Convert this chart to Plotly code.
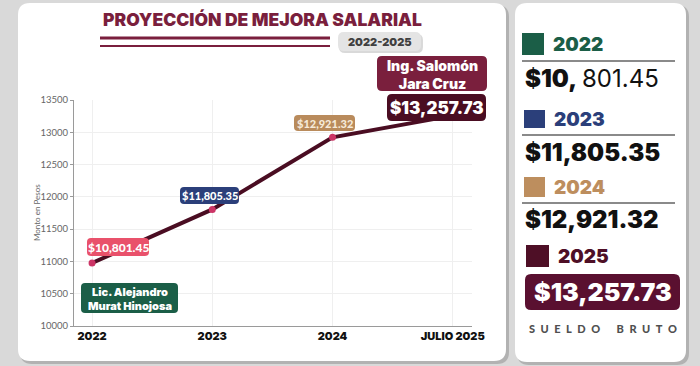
import plotly.graph_objects as go

# ---------------- data ----------------
categories = ["2022", "2023", "2024", "JULIO 2025"]
plotted_values = [10975, 11805.35, 12921.32, 13257.73]
point_labels = ["$10,801.45", "$11,805.35", "$12,921.32", "$13,257.73"]
y_ticks = [10000, 10500, 11000, 11500, 12000, 12500, 13000, 13500]
panel_years = ["2022", "2023", "2024", "2025"]
panel_amounts = [("$10,", "801.45"), ("$11,805.35", ""), ("$12,921.32", ""), ("$13,257.73", "")]
governors = ["Lic. Alejandro<br>Murat Hinojosa", "Ing. Salomón<br>Jara Cruz"]
title_text = "PROYECCIÓN DE MEJORA SALARIAL"
period_text = "2022-2025"
footer_text = "\u2002".join("SUELDO") + "\u2002\u2002\u2002" + "\u2002".join("BRUTO")

# ---------------- styling ----------------
W, H = 700, 366
PL, PR, PT, PB = 74, 472, 100, 326  # plot area in pixels
HEAVY = "Inter"
BODY = "Lato"

year_colors = ["#1b5e47", "#2b3f7a", "#bd8e5e", "#4e0f26"]
label_colors = ["#e9516b", "#2b3f7a", "#b98b5c", "#4a0d22"]
label_text_colors = ["#ffffff", "#ffffff", "#f6ead9", "#ffffff"]
maroon = "#7a1f3d"


def PX(x):
    return (x - PL) / (PR - PL)


def PY(y):
    return (PB - y) / (PB - PT)


def rr_path(x0, y0, x1, y1, r):
    pts = [
        ("M", [(x0 + r, y0)]),
        ("L", [(x1 - r, y0)]),
        ("Q", [(x1, y0), (x1, y0 + r)]),
        ("L", [(x1, y1 - r)]),
        ("Q", [(x1, y1), (x1 - r, y1)]),
        ("L", [(x0 + r, y1)]),
        ("Q", [(x0, y1), (x0, y1 - r)]),
        ("L", [(x0, y0 + r)]),
        ("Q", [(x0, y0), (x0 + r, y0)]),
    ]
    s = ""
    for cmd, ps in pts:
        s += cmd + " " + " ".join(f"{PX(a):.5f},{PY(b):.5f}" for a, b in ps) + " "
    return s + "Z"


shapes = []


def box(x0, y0, x1, y1, r, color, layer="above"):
    shapes.append(dict(type="path", path=rr_path(x0, y0, x1, y1, r), xref="paper", yref="paper",
                       fillcolor=color, line=dict(width=0), layer=layer))


def rect(x0, y0, x1, y1, color, layer="above"):
    shapes.append(dict(type="rect", x0=PX(x0), x1=PX(x1), y0=PY(y1), y1=PY(y0), xref="paper", yref="paper",
                       fillcolor=color, line=dict(width=0), layer=layer))


def hline(x0, x1, y, color, w, layer="above"):
    shapes.append(dict(type="line", x0=PX(x0), x1=PX(x1), y0=PY(y), y1=PY(y), xref="paper", yref="paper",
                       line=dict(color=color, width=w), layer=layer))


annotations = []


def text(x, y, t, size, color, family=BODY, weight="normal", xanchor="center", angle=0):
    annotations.append(dict(x=PX(x), y=PY(y), xref="paper", yref="paper", text=t, showarrow=False,
                            xanchor=xanchor, yanchor="middle", textangle=angle,
                            font=dict(size=size, color=color, family=family, weight=weight)))


# cards with shadows
box(20, 5, 509, 364, 12, "rgba(0,0,0,0.18)", "below")
box(18, 3, 506, 361, 12, "#ffffff", "below")
box(517, 5, 689, 365, 12, "rgba(0,0,0,0.18)", "below")
box(515, 3, 686, 362, 12, "#ffffff", "below")

# title area
text(262, 20, title_text, 17.5, maroon, HEAVY, 900)
hline(100, 330, 38, maroon, 3)
hline(100, 330, 46, maroon, 2)
box(339, 34, 423, 53, 6, "rgba(0,0,0,0.15)")
box(338, 32, 421, 51, 6, "#e4e4e4")
text(380, 42, period_text, 11, "#404040", HEAVY, 900)

# point labels
box(87, 238, 149, 256, 4, label_colors[0])
text(118, 247, point_labels[0], 12, label_text_colors[0], BODY, 900)
box(180, 187, 239, 204, 4, label_colors[1])
text(209.5, 195.5, point_labels[1], 11, label_text_colors[1], BODY, 900)
box(294, 115, 355, 131, 4, label_colors[2])
text(324.5, 123, point_labels[2], 11, label_text_colors[2], BODY, 900)
box(377, 56, 487, 91, 5, maroon)
text(432, 74, governors[1], 14, "#ffffff", HEAVY, 900)
box(387, 94, 486, 121, 5, label_colors[3])
text(436.5, 107.5, point_labels[3], 17, "#ffffff", HEAVY, 900)
box(81, 283, 178, 313, 4, "#1b5e47")
text(129.5, 298.5, governors[0], 11, "#ffffff", HEAVY, 900)

# y-axis title
text(37, 213, "Monto en Pesos", 8, "#666666", BODY, "normal", angle=-90)

# right panel
sq = [(522, 33, 544, 55), (524, 110, 545, 128), (524, 177, 545, 197), (526, 245, 549, 267)]
year_y = [44, 119, 187, 256]
line_y = [61, 135, 203]
amount_y = [78, 152, 219]
for i in range(4):
    x0, y0, x1, y1 = sq[i]
    rect(x0, y0, x1, y1, year_colors[i])
    text(x1 + 7, year_y[i], panel_years[i], 19, year_colors[i], HEAVY, 900, xanchor="left")
    if i < 3:
        hline(522, 675, line_y[i], "#8a8a8a", 2)
        bold_part, plain_part = panel_amounts[i]
        text(523, amount_y[i], bold_part, 24, "#111111", HEAVY, 900, xanchor="left")
        if plain_part:
            text(580, amount_y[i], plain_part, 24, "#111111", HEAVY, "normal", xanchor="left")
box(525, 274, 680, 310, 6, "#5a1030")
text(602.5, 292, point_labels[3], 25, "#ffffff", HEAVY, 900)
text(603, 328, footer_text, 11, "#505050", BODY, 900)

# ---------------- figure ----------------
fig = go.Figure()
fig.add_trace(go.Scatter(
    x=categories, y=plotted_values, mode="lines+markers",
    line=dict(color="#4a0d22", width=4),
    marker=dict(color="#cc3566", size=7),
    hoverinfo="skip", showlegend=False,
))

fig.update_layout(
    width=W, height=H,
    margin=dict(l=PL, r=W - PR, t=PT, b=H - PB, pad=0),
    paper_bgcolor="#d9d9d9",
    plot_bgcolor="rgba(0,0,0,0)",
    shapes=shapes,
    annotations=annotations,
    showlegend=False,
    xaxis=dict(
        type="category", range=[-0.15, 3.16],
        showgrid=True, gridcolor="#efefef", gridwidth=1,
        showline=True, linecolor="#9a9a9a", linewidth=1,
        ticks="", tickfont=dict(family=HEAVY, size=11, color="#111111", weight=900),
        zeroline=False, fixedrange=True,
    ),
    yaxis=dict(
        range=[10000, 13500], tickvals=y_ticks, tickformat="d",
        showgrid=True, gridcolor="#efefef", gridwidth=1,
        showline=True, linecolor="#9a9a9a", linewidth=1,
        ticks="outside", ticklen=3, tickcolor="#9a9a9a",
        tickfont=dict(family=BODY, size=9.5, color="#666666"),
        zeroline=False, fixedrange=True,
    ),
)

fig.write_html("out.html", config={"displayModeBar": False},
               post_script="document.body.style.margin='0';document.body.style.background='#d9d9d9';")
